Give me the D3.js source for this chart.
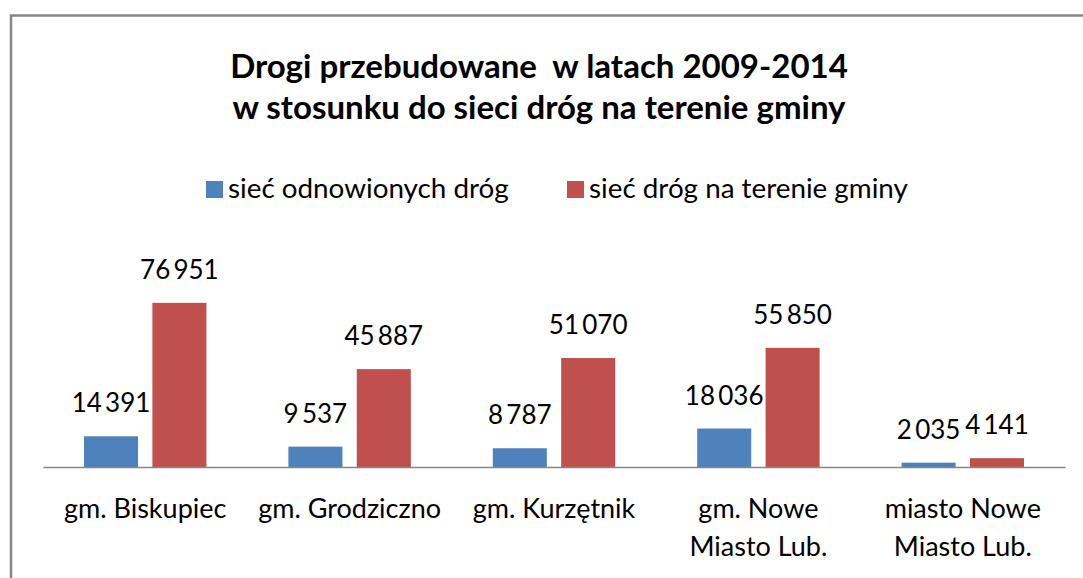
<!DOCTYPE html>
<html>
<head>
<meta charset="utf-8">
<script src="https://cdn.jsdelivr.net/npm/d3@7"></script>
<style>
  body { margin: 0; background: #fff; }
  text { font-family: Lato, "Open Sans", sans-serif; fill: #000; }
</style>
</head>
<body>
<div id="chart"></div>
<script>
const width = 1083;
const height = 578;

const categories = [
  ['gm. Biskupiec'],
  ['gm. Grodziczno'],
  ['gm. Kurzętnik'],
  ['gm. Nowe', 'Miasto Lub.'],
  ['miasto Nowe', 'Miasto Lub.']
];
const seriesNames = ['sieć odnowionych dróg', 'sieć dróg na terenie gminy'];
const renewed = [14391, 9537, 8787, 18036, 2035];
const total = [76951, 45887, 51070, 55850, 4141];
const seriesColors = ['#4f81bd', '#c0504d'];

const titleLines = ['Drogi przebudowane  w latach 2009-2014', 'w stosunku do sieci dróg na terenie gminy'];

const fmt = v => d3.format(',')(v).replace(/,/g, '\u2009');

const rows = categories.map((c, i) => ({ key: i, label: c, values: [renewed[i], total[i]] }));

const svg = d3.select('#chart')
  .append('svg')
  .attr('width', width)
  .attr('height', height);

// chart frame
svg.append('rect')
  .attr('x', 11)
  .attr('y', 15.5)
  .attr('width', 1200)
  .attr('height', 700)
  .attr('fill', 'none')
  .attr('stroke', '#868686')
  .attr('stroke-width', 2.5);

// title
svg.append('text')
  .attr('x', 539)
  .attr('text-anchor', 'middle')
  .style('font-weight', 'bold')
  .style('font-size', '33px')
  .selectAll('tspan')
  .data(titleLines)
  .enter()
  .append('tspan')
  .attr('x', 539)
  .attr('y', (d, i) => 78 + i * 41)
  .style('white-space', 'pre')
  .text(d => d);

// legend
const legendX = [206, 567];
const legend = svg.selectAll('.legend')
  .data(seriesNames)
  .enter()
  .append('g')
  .attr('class', 'legend')
  .attr('transform', (d, i) => `translate(${legendX[i]},0)`);

legend.append('rect')
  .attr('x', 0)
  .attr('y', 181)
  .attr('width', 17)
  .attr('height', 17)
  .attr('fill', (d, i) => seriesColors[i]);

legend.append('text')
  .attr('x', 22)
  .attr('y', 198)
  .style('font-size', '27.8px')
  .text(d => d);

// scales
const x0 = d3.scaleBand()
  .domain(rows.map(d => d.key))
  .range([43, 1065])
  .padding(0);

const x1 = d3.scaleBand()
  .domain([0, 1])
  .range([41, x0.bandwidth() - 41])
  .paddingInner(0.21);

const y = d3.scaleLinear()
  .domain([0, 90000])
  .range([467, 275]);

const groups = svg.selectAll('.group')
  .data(rows)
  .enter()
  .append('g')
  .attr('class', 'group')
  .attr('transform', d => `translate(${x0(d.key)},0)`);

groups.selectAll('rect')
  .data(d => d.values.map((v, s) => ({ v, s })))
  .enter()
  .append('rect')
  .attr('x', d => x1(d.s))
  .attr('y', d => y(d.v))
  .attr('width', x1.bandwidth())
  .attr('height', d => y(0) - y(d.v))
  .attr('fill', d => seriesColors[d.s]);

groups.selectAll('.value')
  .data(d => d.values.map((v, s) => ({ v, s })))
  .enter()
  .append('text')
  .attr('class', 'value')
  .attr('x', d => x1(d.s) + x1.bandwidth() / 2)
  .attr('y', d => y(d.v) - 24)
  .attr('text-anchor', 'middle')
  .style('font-size', '26px')
  .text(d => fmt(d.v));

// x axis
const xAxis = svg.append('g')
  .attr('transform', `translate(0,${y(0)})`)
  .call(d3.axisBottom(x0).tickSize(0).tickFormat(''));
xAxis.select('.domain').attr('stroke', '#868686').attr('stroke-width', 1.5);

groups.append('text')
  .attr('class', 'cat')
  .attr('text-anchor', 'middle')
  .style('font-size', '27px')
  .selectAll('tspan')
  .data(d => d.label)
  .enter()
  .append('tspan')
  .attr('x', x0.bandwidth() / 2)
  .attr('y', (d, i) => 518 + i * 38)
  .text(d => d);
</script>
</body>
</html>
